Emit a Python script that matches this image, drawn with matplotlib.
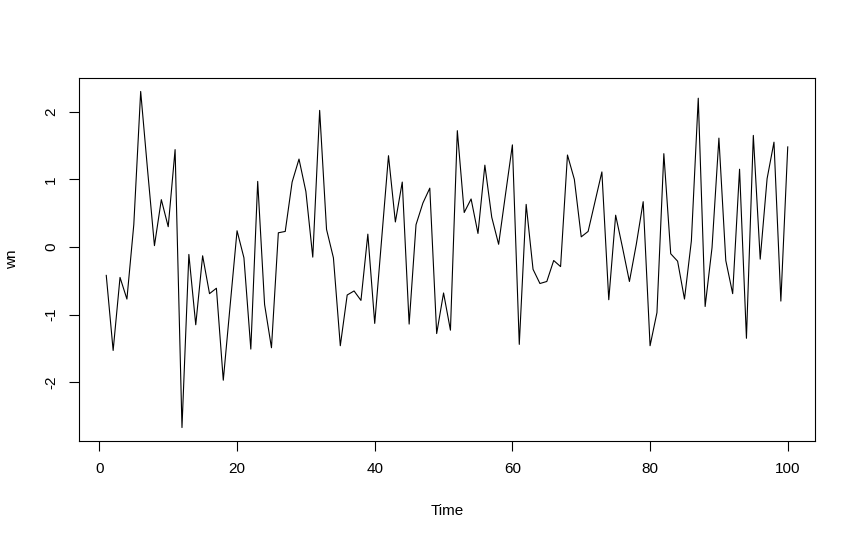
import numpy as np
import matplotlib
matplotlib.use("Agg")
import matplotlib.pyplot as plt

# white noise series
time = np.arange(1, 101)
wn = [-0.42, -1.53, -0.45, -0.77, 0.33, 2.30, 1.14, 0.02, 0.70, 0.30,
      1.44, -2.67, -0.11, -1.15, -0.13, -0.69, -0.61, -1.97, -0.86, 0.24,
      -0.16, -1.51, 0.97, -0.85, -1.49, 0.21, 0.23, 0.96, 1.30, 0.82,
      -0.15, 2.02, 0.26, -0.16, -1.46, -0.71, -0.65, -0.79, 0.19, -1.13,
      0.11, 1.35, 0.37, 0.96, -1.14, 0.33, 0.65, 0.87, -1.28, -0.68,
      -1.23, 1.72, 0.51, 0.71, 0.20, 1.21, 0.44, 0.04, 0.78, 1.51,
      -1.44, 0.63, -0.33, -0.54, -0.51, -0.20, -0.29, 1.36, 1.00, 0.15,
      0.23, 0.67, 1.11, -0.78, 0.47, -0.01, -0.51, 0.04, 0.67, -1.46,
      -0.97, 1.38, -0.10, -0.21, -0.77, 0.09, 2.20, -0.88, -0.01, 1.61,
      -0.20, -0.69, 1.15, -1.35, 1.65, -0.18, 1.01, 1.55, -0.80, 1.48]
xticks = [0, 20, 40, 60, 80, 100]
yticks = [-2, -1, 0, 1, 2]

plt.rcParams['font.family'] = ['Liberation Sans', 'DejaVu Sans']

fig = plt.figure(figsize=(8.55, 5.4), dpi=100)
ax = fig.add_axes([79/855, 1-441/540, (815-79)/855, (441-78)/540])
ax.plot(time, wn, color='black', linewidth=0.8)

# R style 4% padding
xr = time.max() - time.min()
ax.set_xlim(time.min() - 0.04*xr, time.max() + 0.04*xr)
yr = max(wn) - min(wn)
ax.set_ylim(min(wn) - 0.04*yr, max(wn) + 0.04*yr)

ax.set_xticks(xticks)
ax.set_yticks(yticks)
ax.set_yticklabels([str(v) for v in yticks], rotation=90, va='center')
ax.tick_params(direction='out', length=7, width=0.8, labelsize=11, pad=8)
for s in ax.spines.values():
    s.set_linewidth(0.8)

ax.set_xlabel("Time", fontsize=11, labelpad=20)
ax.set_ylabel("wn", fontsize=11, labelpad=18)

fig.savefig("out.png", dpi=100)
